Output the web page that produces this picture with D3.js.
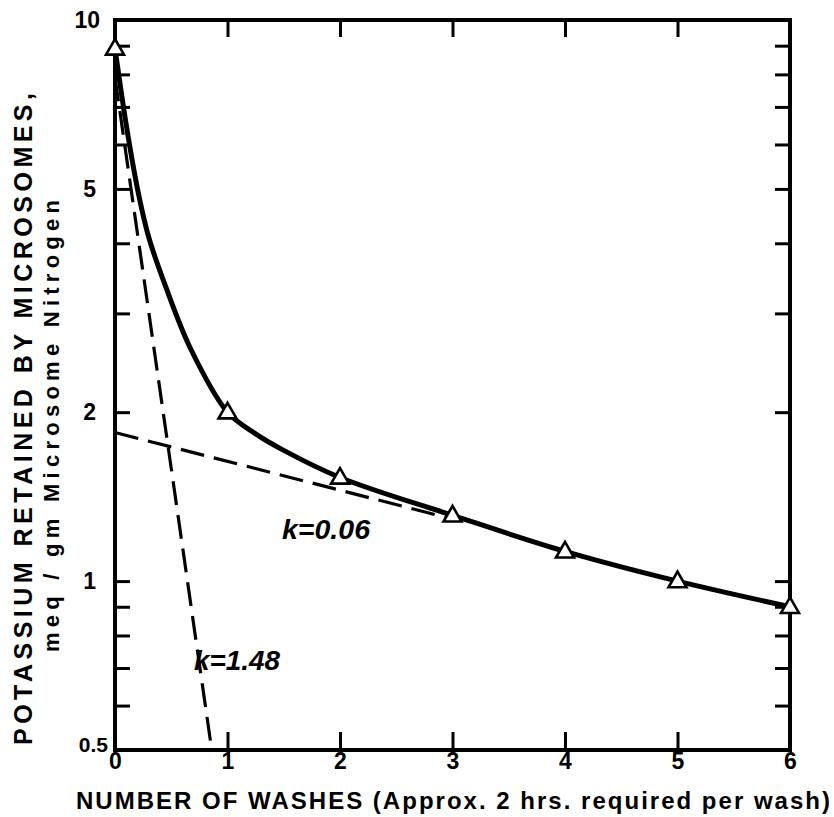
<!DOCTYPE html>
<html>
<head>
<meta charset="utf-8">
<script src="https://cdn.jsdelivr.net/npm/d3@7"></script>
<style>
  body { margin: 0; background: #fff; }
  svg { display: block; font-family: 'Liberation Sans', Arial, sans-serif; }
</style>
</head>
<body>
<svg id="chart" width="834" height="817"></svg>
<script>
// measured points (triangles)
const washes = [0, 1, 2, 3, 4, 5, 6];
const potassium = [8.9, 2.0, 1.53, 1.31, 1.13, 1.0, 0.9];

// smooth curve
const curveX = [0, 0.1, 0.2, 0.3, 0.45, 0.67, 1, 1.25, 1.5, 2, 3, 4, 5, 6];
const curveY = [8.9, 6.5, 5.0, 4.1, 3.35, 2.6, 2.0, 1.83, 1.71, 1.53, 1.31, 1.13, 1.0, 0.9];

// dashed component lines (end points)
const slowX = [0, 3];
const slowY = [1.84, 1.29];
const fastX = [0, 0.86];
const fastY = [7.9, 0.5];

const yLabelled = [0.5, 1, 2, 5, 10];
const yLeftTicks = [0.6, 0.7, 0.8, 0.9, 1, 2, 3, 4, 5, 6, 7, 8, 9];
const yRightTicks = [0.6, 0.7, 0.8, 0.9, 1, 2, 3, 4, 5, 6, 7, 8, 9];
const xTicks = [0, 1, 2, 3, 4, 5, 6];

const svg = d3.select('#chart');

const x = d3.scaleLinear().domain([0, 6]).range([115, 790]);
const y = d3.scaleLog().domain([0.5, 10]).range([750, 20]);

const styleAxis = (g) => {
  g.attr('font-size', 23)
    .attr('font-family', "'Liberation Sans', Arial, sans-serif")
    .attr('font-weight', 'bold');
  g.select('.domain').remove();
  g.selectAll('.tick line').attr('stroke', '#000').attr('stroke-width', 3);
  g.selectAll('.tick text').attr('fill', '#000');
};

// left axis
svg.append('g')
  .attr('transform', `translate(${x(0)},0)`)
  .call(d3.axisLeft(y)
    .tickValues(yLeftTicks.concat([0.5, 10]))
    .tickSize(-15)
    .tickSizeOuter(0)
    .tickPadding(19)
    .tickFormat(d => (yLabelled.includes(d) ? d : '')))
  .call(styleAxis)
  .call(g => g.selectAll('.tick').filter(d => d === 0.5 || d === 10).select('line').remove())
  .call(g => g.selectAll('.tick').filter(d => d === 0.5).select('text').attr('dy', '0.05em').attr('x', -7).attr('font-size', 21))
  .call(g => g.selectAll('.tick').filter(d => d === 10).select('text').attr('x', -15));

// right axis
svg.append('g')
  .attr('transform', `translate(${x(6)},0)`)
  .call(d3.axisRight(y)
    .tickValues(yRightTicks)
    .tickSize(-15)
    .tickSizeOuter(0)
    .tickFormat(''))
  .call(styleAxis);

// bottom axis
svg.append('g')
  .attr('transform', `translate(0,${y(0.5)})`)
  .call(d3.axisBottom(x)
    .tickValues(xTicks)
    .tickSize(-18)
    .tickSizeOuter(0)
    .tickPadding(3)
    .tickFormat(d3.format('d')))
  .call(styleAxis)
  .call(g => g.selectAll('.tick').filter(d => d === 0 || d === 6).select('line').remove());

// top axis
svg.append('g')
  .attr('transform', `translate(0,${y(10)})`)
  .call(d3.axisTop(x)
    .tickValues(xTicks.slice(1, 6))
    .tickSize(-17)
    .tickSizeOuter(0)
    .tickFormat(''))
  .call(styleAxis);

// frame
svg.append('rect')
  .attr('x', x(0))
  .attr('y', y(10))
  .attr('width', x(6) - x(0))
  .attr('height', y(0.5) - y(10))
  .attr('fill', 'none')
  .attr('stroke', '#000')
  .attr('stroke-width', 4);

const line = d3.line()
  .x(d => x(d[0]))
  .y(d => y(d[1]));

// dashed component lines
[[slowX, slowY], [fastX, fastY]].forEach(([xs, ys]) => {
  svg.append('path')
    .attr('d', line(xs.map((v, i) => [v, ys[i]])))
    .attr('fill', 'none')
    .attr('stroke', '#000')
    .attr('stroke-width', 3.2)
    .attr('stroke-dasharray', '24,10');
});

// solid curve
const smooth = d3.line()
  .x(d => x(d[0]))
  .y(d => y(d[1]))
  .curve(d3.curveCatmullRom.alpha(0.5));
svg.append('path')
  .attr('d', smooth(curveX.map((v, i) => [v, curveY[i]])))
  .attr('fill', 'none')
  .attr('stroke', '#000')
  .attr('stroke-width', 5)
  .attr('stroke-linecap', 'round');

// triangles
const triangle = d3.symbol().type(d3.symbolTriangle).size(140);
svg.selectAll('.pt')
  .data(washes.map((v, i) => [v, potassium[i]]))
  .enter().append('path')
    .attr('class', 'pt')
    .attr('d', triangle)
    .attr('transform', d => `translate(${x(d[0])},${y(d[1]) + 1})`)
    .attr('fill', '#fff')
    .attr('stroke', '#000')
    .attr('stroke-width', 2.6);

// rate constant labels
svg.append('text')
  .attr('x', 282).attr('y', 539)
  .attr('font-size', 28).attr('font-style', 'italic').attr('font-weight', 'bold')
  .attr('textLength', 88).attr('lengthAdjust', 'spacingAndGlyphs')
  .text('k=0.06');
svg.append('text')
  .attr('x', 194).attr('y', 670)
  .attr('font-size', 28).attr('font-style', 'italic').attr('font-weight', 'bold')
  .attr('textLength', 86).attr('lengthAdjust', 'spacingAndGlyphs')
  .text('k=1.48');

// axis titles
svg.append('text')
  .attr('x', 76).attr('y', 809)
  .attr('font-size', 24)
  .attr('font-weight', 'bold')
  .attr('textLength', 754)
  .attr('lengthAdjust', 'spacing')
  .text('NUMBER OF WASHES (Approx. 2 hrs. required per wash)');

svg.append('text')
  .attr('transform', 'translate(32,745) rotate(-90)')
  .attr('font-size', 25)
  .attr('font-weight', 'bold')
  .attr('textLength', 652)
  .attr('lengthAdjust', 'spacing')
  .text('POTASSIUM RETAINED BY MICROSOMES,');

svg.append('text')
  .attr('transform', 'translate(59,652) rotate(-90)')
  .attr('font-size', 22)
  .attr('font-weight', 'bold')
  .attr('textLength', 452)
  .attr('lengthAdjust', 'spacing')
  .text('meq / gm Microsome Nitrogen');
</script>
</body>
</html>
